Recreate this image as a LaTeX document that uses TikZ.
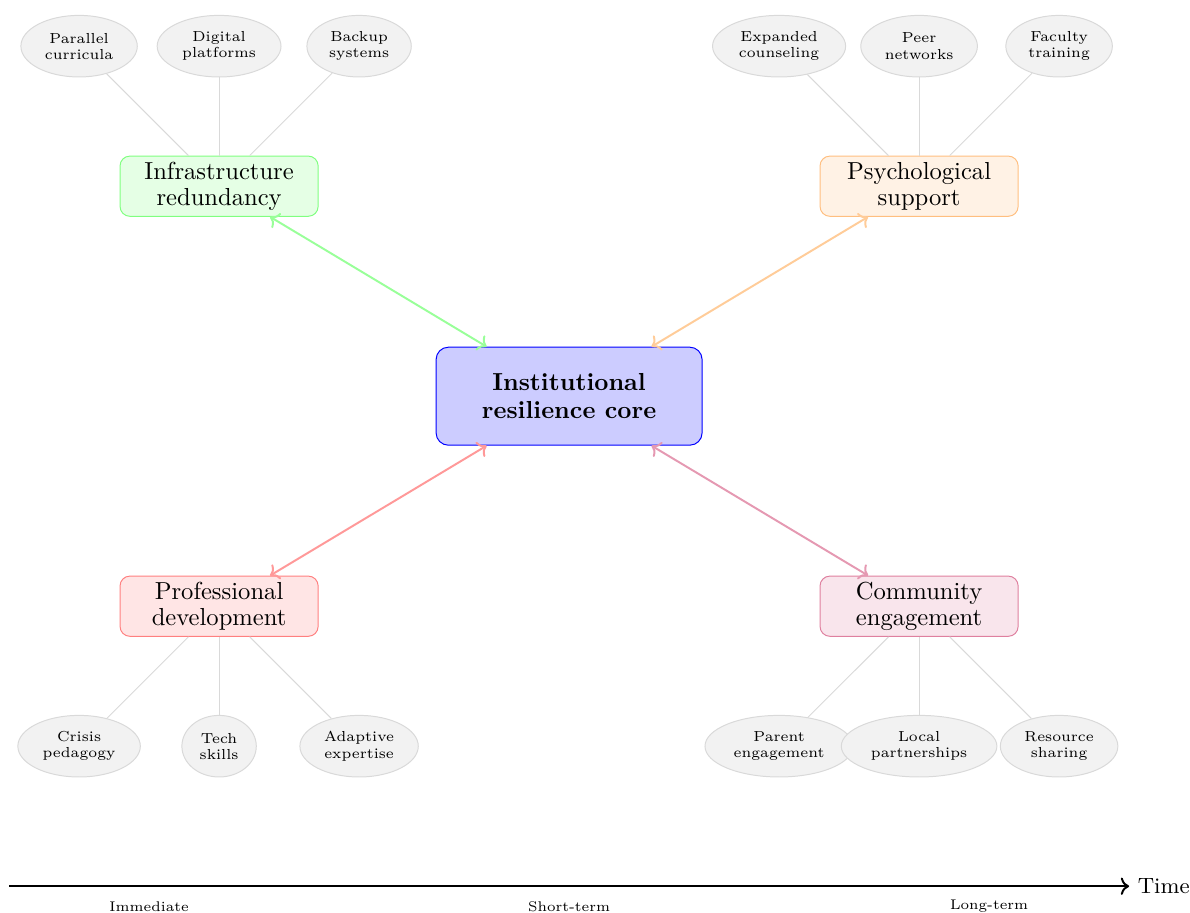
\documentclass[tikz,border=0pt]{standalone}
\usepackage{tikz}
\usetikzlibrary{arrows.meta, positioning, shapes.geometric}

\begin{document}
\begin{tikzpicture}[
    corebox/.style={draw=blue, fill=blue!20, rounded corners=5pt, minimum width=3.8cm, minimum height=1.4cm, align=center, font=\fontsize{10}{11.4}\selectfont\bfseries},
    areabox/.style={rounded corners=4pt, minimum width=2.83cm, minimum height=0.86cm, align=center, inner sep=2pt, font=\fontsize{10}{10.8}\selectfont},
    leaf/.style={ellipse, draw=gray!30, fill=gray!10, align=center, inner sep=2.8pt, minimum height=0.88cm, font=\fontsize{5.9}{6.6}\selectfont},
    link/.style={<->, thick},
    spoke/.style={gray!30},
    phase/.style={font=\fontsize{5.7}{7}\selectfont}
]
    \useasboundingbox (-8.13,-7.37) rectangle (8.87,5.66);

    % Core
    \node[corebox] (core) at (0,0) {Institutional\\resilience core};

    % Strategy areas
    \node[areabox, draw=green!50, fill=green!10] (infra) at (-5,3) {Infrastructure\\redundancy};
    \node[areabox, draw=orange!50, fill=orange!10] (psych) at (5,3) {Psychological\\support};
    \node[areabox, draw=red!50, fill=red!10] (prof) at (-5,-3) {Professional\\development};
    \node[areabox, draw=purple!50, fill=purple!10] (comm) at (5,-3) {Community\\engagement};

    % Links to the core
    \foreach \area/\col in {infra/green, psych/orange, prof/red, comm/purple}
    \draw[link, \col!40] (core) -- (\area);

    % Measures of each area
    \foreach \area/\dy/\ma/\mb/\mc in {
        infra/2/{Parallel\\curricula}/{Digital\\platforms}/{Backup\\systems},
        psych/2/{Expanded\\counseling}/{Peer\\networks}/{Faculty\\training},
        prof/-2/{Crisis\\pedagogy}/{Tech\\skills}/{Adaptive\\expertise},
        comm/-2/{Parent\\engagement}/{Local\\partnerships}/{Resource\\sharing}}
    {
        \node[leaf] (\area-1) at ([shift={(-2,\dy)}]\area) {\ma};
        \node[leaf] (\area-2) at ([shift={(0,\dy)}]\area) {\mb};
        \node[leaf] (\area-3) at ([shift={(2,\dy)}]\area) {\mc};
        \foreach \i in {1,2,3}
        \draw[spoke] (\area) -- (\area-\i);
    }

    % Timeline
    \coordinate (tstart) at (-8,-7);
    \coordinate (tend) at (8,-7);
    \draw[thick, ->] (tstart) -- (tend);
    \node[right, font=\fontsize{9}{11}\selectfont] (time) at (tend) {Time};
    \foreach \x/\lbl/\nm in {-6/Immediate/now, 0/Short-term/soon, 6/Long-term/later}
    \node[phase] (\nm) at (\x,-7.29) {\lbl};
\end{tikzpicture}
\end{document}
